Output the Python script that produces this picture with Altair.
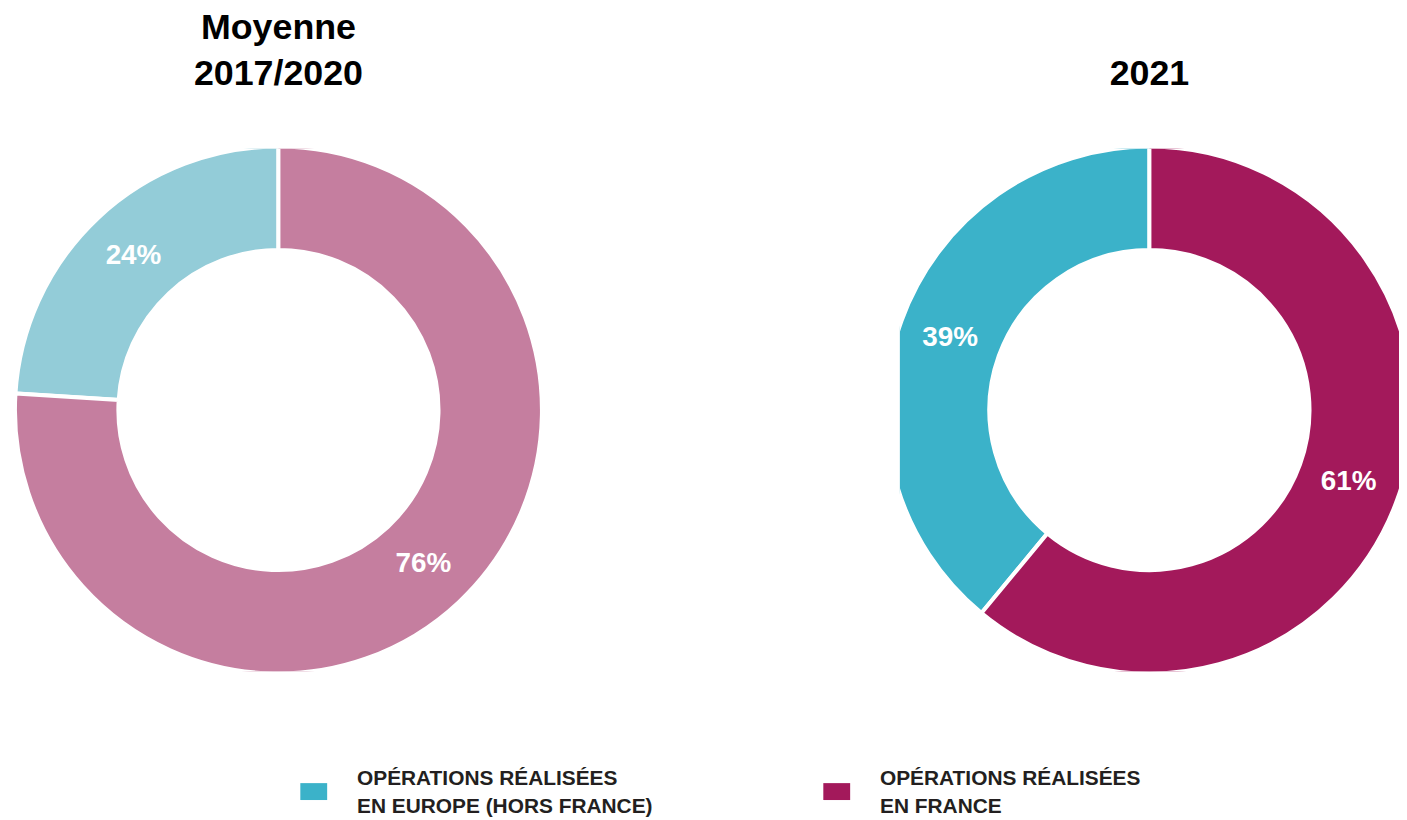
import altair as alt
import pandas as pd

# ---- data ----
categories = [
    "OPÉRATIONS RÉALISÉES|EN EUROPE (HORS FRANCE)",
    "OPÉRATIONS RÉALISÉES|EN FRANCE",
]
values_avg = [24, 76]
values_2021 = [39, 61]
labels_avg = ["24%", "76%"]
labels_2021 = ["39%", "61%"]
stack_order = [1, 0]  # France starts at 12 o'clock, Europe follows
title_avg = ["Moyenne", "2017/2020"]
title_2021 = "2021"
colors_avg = ["#93CCD8", "#C57E9F"]
colors_2021 = ["#3BB2C9", "#A3195B"]

FONT = "Liberation Sans"


def donut(values, labels, colors, title, width):
    df = pd.DataFrame(
        {"cat": categories, "value": values, "label": labels, "order": stack_order}
    )
    base = alt.Chart(df).encode(
        theta=alt.Theta("value:Q", stack=True),
        order=alt.Order("order:Q"),
        detail="cat:N",
    )
    arc = base.mark_arc(
        outerRadius=265, innerRadius=161, stroke="white", strokeWidth=4, clip=True
    ).encode(
        color=alt.Color(
            "cat:N", scale=alt.Scale(domain=categories, range=colors), legend=None
        )
    )
    text = base.mark_text(
        radius=213, font=FONT, fontSize=28, fontWeight="bold", color="white"
    ).encode(text="label:N")
    return (arc + text).properties(
        width=width,
        height=526,
        title=alt.TitleParams(
            text=title,
            font=FONT,
            fontSize=36,
            fontWeight="bold",
            color="black",
            baseline="bottom",
            offset=20,
            lineHeight=46,
            anchor="middle",
        ),
    )


legend = alt.Legend(
    title=None,
    orient="none",
    legendX=294,
    legendY=0,
    direction="horizontal",
    padding=0,
    symbolType="M-1,0.333H1V1.593H-1Z",
    symbolSize=729,
    symbolStrokeWidth=0,
    symbolOpacity=1,
    labelExpr="split(datum.label, '|')",
    labelFont=FONT,
    labelFontSize=21,
    labelFontWeight="bold",
    labelColor="#231F20",
    labelOffset=30,
    labelBaseline="middle",
    labelLimit=0,
    columnPadding=171,
)

left = donut(values_avg, labels_avg, colors_avg, title_avg, 544)
right = donut(values_2021, labels_2021, colors_2021, title_2021, 502)

legend_chart = (
    alt.Chart(pd.DataFrame({"cat": categories}))
    .mark_arc(outerRadius=0, innerRadius=0)
    .encode(
        color=alt.Color(
            "cat:N", scale=alt.Scale(domain=categories, range=colors_2021), legend=legend
        )
    )
    .properties(width=1399, height=50)
)

top = alt.hconcat(left, right, spacing=353).resolve_scale(color="independent")

chart = (
    alt.vconcat(top, legend_chart, spacing=94)
    .resolve_scale(color="independent")
    .resolve_legend(color="independent")
    .properties(padding=0)
    .configure(style={"guide-label": {"lineHeight": 29}})
    .configure_view(stroke=None)
)

chart.save("out.html", embed_options={"renderer": "svg", "actions": False})
